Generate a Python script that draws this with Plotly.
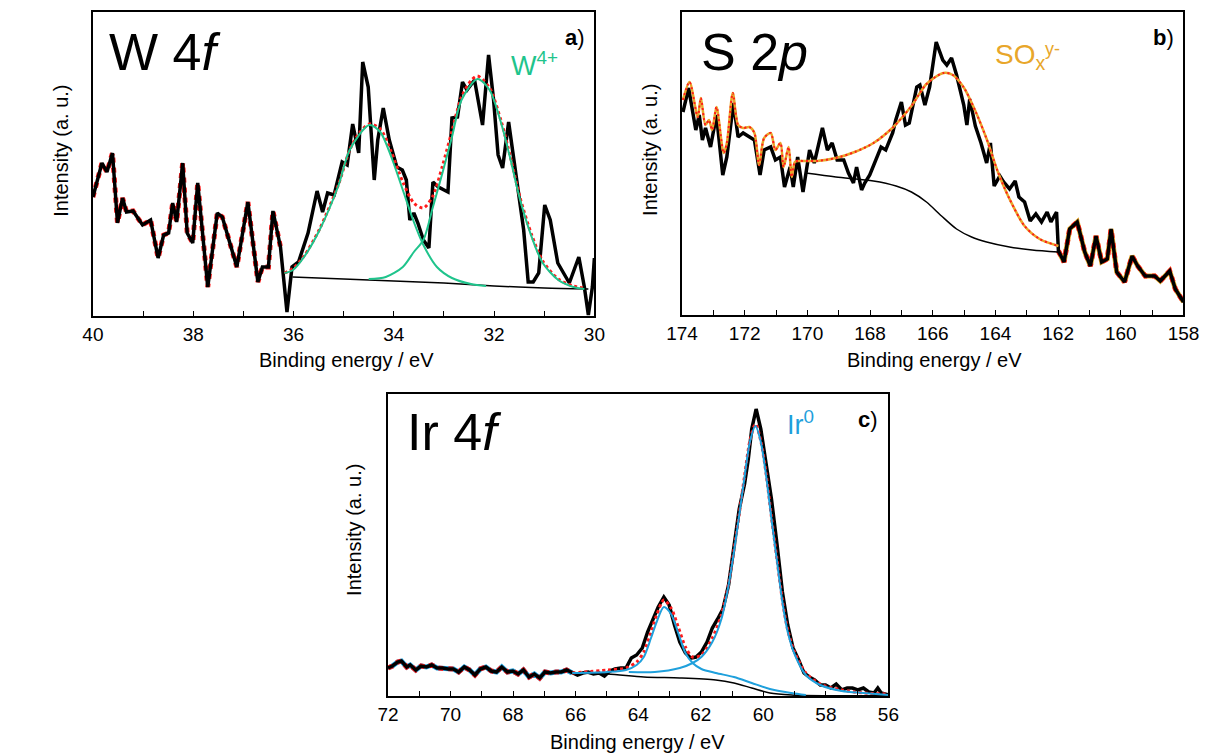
import plotly.graph_objects as go

W, H = 1217, 753

# ---------------- Panel a : W 4f ----------------
a_be = [40.00, 39.82, 39.72, 39.61, 39.51, 39.41, 39.33, 39.20, 39.01, 38.85,
        38.70, 38.59, 38.49, 38.41, 38.33, 38.21, 38.12, 38.01, 37.91, 37.71,
        37.52, 37.42, 37.13, 36.91, 36.71, 36.62, 36.50, 36.41, 36.26, 36.13,
        36.03, 35.90, 35.71, 35.53, 35.42, 35.32, 35.19, 35.03, 34.93, 34.82,
        34.70, 34.62, 34.51, 34.39, 34.32, 34.21, 34.09, 33.94, 33.83, 33.75,
        33.68, 33.60, 33.52, 33.41, 33.30, 33.22, 33.11, 32.92, 32.84, 32.73,
        32.63, 32.54, 32.39, 32.23, 32.11, 32.01, 31.92, 31.83, 31.71, 31.60,
        31.49, 31.41, 31.32, 31.22, 31.11, 30.99, 30.88, 30.73, 30.50, 30.31,
        30.20, 30.12, 30.04, 30.00]
a_raw = [119, 153, 144, 163, 93, 118, 104, 105, 91, 96,
         58, 81, 83, 113, 94, 153, 83, 73, 133, 29,
         103, 99, 49, 114, 34, 49, 49, 105, 69, 4,
         49, 54, 83, 125, 104, 123, 121, 154, 151, 192,
         163, 254, 229, 136, 176, 208, 176, 149, 146, 136,
         96, 103, 93, 76, 68, 134, 129, 124, 198, 199,
         234, 226, 236, 191, 261, 216, 161, 148, 194, 156,
         116, 86, 34, 34, 43, 111, 96, 53, 33, 59,
         29, 1, 29, 58]

a_fit_be = [36.18, 36.00, 35.79, 35.48, 35.10, 34.88, 34.70, 34.49, 34.27, 34.05,
            33.82, 33.60, 33.41, 33.22, 33.03, 32.84, 32.65, 32.45, 32.33, 32.09,
            31.86, 31.67, 31.48, 31.25, 31.03, 30.72, 30.42, 30.20]
a_fit = [43, 48, 60, 87, 132, 166, 182, 192, 187, 164,
         134, 113, 108, 120, 150, 185, 219, 236, 240, 228,
         195, 158, 118, 81, 55, 37, 30, 28]

a_bg_be = [36.02, 35.00, 34.00, 33.00, 32.00, 31.00, 30.12]
a_bg = [39, 37, 35, 33, 30, 28, 27]

a_p1_be = [36.18, 36.01, 35.79, 35.48, 35.10, 34.88, 34.49, 34.27, 34.05, 33.82,
           33.60, 33.41, 33.14, 32.84, 32.46, 32.16]
a_p1 = [43, 46, 59, 86, 131, 166, 191, 184, 159, 126,
        94, 71, 49, 38, 32, 30]

a_p2_be = [34.50, 34.16, 33.82, 33.60, 33.41, 33.22, 33.03, 32.84, 32.65, 32.33,
           32.09, 31.86, 31.67, 31.48, 31.25, 31.03, 30.72, 30.42, 30.20]
a_p2 = [37, 39, 49, 64, 76, 109, 143, 179, 216, 237,
        226, 193, 156, 116, 79, 53, 36, 29, 27]

# ---------------- Panel b : S 2p ----------------
b_be = [173.97, 173.79, 173.56, 173.45, 173.35, 173.25, 173.09, 172.90, 172.70, 172.57,
        172.36, 172.21, 172.05, 171.85, 171.69, 171.51, 171.38, 171.17, 171.02, 170.86,
        170.73, 170.55, 170.45, 170.31, 170.14, 169.93, 169.78, 169.52, 169.36, 169.21,
        169.05, 168.84, 168.69, 168.53, 168.43, 168.27, 168.17, 168.01, 167.81, 167.65,
        167.50, 167.28, 167.18, 167.00, 166.87, 166.75, 166.51, 166.41, 166.25, 166.10,
        165.89, 165.68, 165.55, 165.40, 165.24, 165.01, 164.91, 164.82, 164.64, 164.46,
        164.28, 164.16, 164.04, 163.86, 163.74, 163.55, 163.37, 163.25, 163.07, 162.89,
        162.71, 162.53, 162.35, 162.23, 162.05, 161.99, 161.81, 161.63, 161.39, 161.15,
        160.97, 160.79, 160.61, 160.43, 160.31, 160.13, 159.88, 159.64, 159.46, 159.22,
        158.92, 158.74, 158.44, 158.26, 158.00]
b_raw = [203, 227, 185, 200, 175, 187, 168, 200, 140, 158,
         212, 178, 182, 178, 175, 140, 165, 168, 155, 158,
         128, 148, 128, 158, 123, 165, 152, 187, 165, 172,
         155, 155, 142, 132, 148, 125, 132, 140, 155, 168,
         165, 182, 195, 213, 190, 192, 228, 230, 210, 228,
         273, 255, 250, 257, 240, 210, 190, 216, 189, 172,
         152, 172, 129, 139, 133, 126, 134, 118, 113, 94,
         101, 93, 103, 93, 103, 64, 53, 86, 93, 63,
         49, 79, 53, 56, 86, 43, 33, 59, 49, 39,
         39, 34, 44, 26, 13]

b_env_be = [173.97, 173.76, 173.50, 173.40, 173.25, 173.14, 173.04, 172.90, 172.67, 172.57,
            172.38, 172.21, 172.05, 171.85, 171.69, 171.54, 171.38, 171.17, 171.02, 170.86,
            170.76, 170.60, 170.50, 170.40, 170.30, 169.69, 169.09, 168.49, 167.89, 167.29,
            166.68, 166.20, 165.66, 165.36, 165.00, 164.64, 164.28, 163.92, 163.55, 163.07,
            162.59, 161.99]
b_env = [215, 233, 198, 217, 190, 195, 185, 208, 162, 172,
         222, 190, 187, 188, 182, 150, 177, 182, 165, 172,
         148, 168, 138, 153, 154, 154, 157, 163, 172, 187,
         209, 231, 242, 240, 227, 204, 176, 143, 116, 89,
         76, 69]

b_bg_be = [170.05, 169.09, 167.89, 167.17, 166.68, 166.20, 165.72, 165.24, 164.76, 164.28,
           163.55, 162.83, 161.99]
b_bg = [142, 138, 134, 129, 123, 113, 99, 86, 78, 73, 68, 65, 63]

# ---------------- Panel c : Ir 4f ----------------
c_be = [72.00, 71.86, 71.69, 71.57, 71.40, 71.29, 71.11, 70.94, 70.77, 70.60,
        70.43, 70.25, 70.08, 69.91, 69.74, 69.56, 69.39, 69.22, 69.05, 68.87,
        68.70, 68.53, 68.36, 68.18, 68.01, 67.84, 67.67, 67.49, 67.32, 67.15,
        66.98, 66.80, 66.63, 66.46, 66.29, 66.11, 65.94, 65.77, 65.60, 65.43,
        65.25, 65.08, 64.91, 64.74, 64.56, 64.39, 64.22, 64.05, 63.87, 63.70,
        63.53, 63.36, 63.18, 63.01, 62.84, 62.67, 62.49, 62.32, 62.15, 61.98,
        61.80, 61.63, 61.46, 61.29, 61.11, 60.94, 60.77, 60.60, 60.48, 60.37,
        60.23, 60.08, 59.91, 59.74, 59.56, 59.39, 59.22, 59.05, 58.87, 58.70,
        58.53, 58.36, 58.18, 58.01, 57.84, 57.67, 57.49, 57.32, 57.15, 56.98,
        56.80, 56.63, 56.46, 56.34, 56.23, 56.00]
c_raw = [28, 30, 34, 35, 29, 31, 26, 30, 29, 31,
         28, 28, 27, 27, 24, 29, 26, 21, 27, 29,
         25, 24, 29, 24, 25, 22, 26, 19, 22, 18,
         24, 23, 24, 24, 26, 23, 21, 23, 24, 22,
         23, 20, 25, 27, 28, 28, 38, 41, 48, 64,
         77, 89, 99, 91, 71, 54, 43, 38, 39, 44,
         54, 68, 77, 87, 111, 147, 187, 212, 237, 267,
         287, 267, 234, 197, 151, 104, 71, 48, 36, 23,
         19, 16, 11, 11, 8, 12, 6, 8, 8, 6,
         8, 4, 3, 8, 3, 1]

c_fit_be = [66.11, 64.97, 64.39, 64.05, 63.82, 63.59, 63.41, 63.18, 62.95, 62.72,
            62.49, 62.26, 61.98, 61.63, 61.34, 61.11, 60.94, 60.77, 60.60, 60.43,
            60.25, 60.08, 59.91, 59.74, 59.56, 59.39, 59.22, 58.99, 58.64, 58.18,
            57.49, 56.80, 56.00]
c_fit = [23, 26, 28, 34, 44, 64, 81, 96, 88, 69,
         49, 39, 41, 58, 81, 112, 146, 182, 220, 255,
         272, 255, 222, 179, 136, 96, 66, 43, 23, 12,
         6, 3, 2]

c_p1_be = [66.11, 64.97, 64.39, 64.05, 63.82, 63.59, 63.41, 63.18, 62.95, 62.72,
           62.49, 62.26, 61.98, 61.52, 60.94, 60.37, 59.79, 59.10, 58.64]
c_p1 = [23, 24, 26, 31, 39, 58, 74, 89, 82, 63,
        43, 33, 27, 23, 19, 13, 7, 3, 1]

c_p2_be = [64.30, 63.47, 62.67, 62.26, 61.98, 61.63, 61.34, 61.11, 60.94, 60.77, 60.60,
           60.43, 60.25, 60.08, 59.91, 59.74, 59.56, 59.39, 59.22, 58.99, 58.64,
           58.18, 57.49, 56.80, 56.00]
c_p2 = [24, 24, 28, 33, 39, 54, 77, 111, 144, 181, 219,
        254, 270, 254, 220, 177, 134, 94, 64, 41, 21,
        11, 5, 3, 1]

c_bg_be = [66.11, 64.97, 63.82, 62.67, 61.52, 60.94, 60.37, 59.79, 59.10, 58.06, 56.00]
c_bg = [23, 22, 19, 18, 16, 13, 8, 3, 1, 0.3, 0.3]

# ---------------- styling ----------------
GREEN = "#1fc48c"
ORANGE = "#e8a62a"
BLUE = "#1fa0dc"
RED = "#ff1a1a"
FONT = "Arial"
DOTS = "2px,3px"

fig = go.Figure()


def line(x, y, ax, color, width, dash="solid", shape="linear"):
    xa = "x" if ax == 1 else f"x{ax}"
    ya = "y" if ax == 1 else f"y{ax}"
    fig.add_trace(go.Scatter(x=x, y=y, xaxis=xa, yaxis=ya, mode="lines",
                             line=dict(color=color, width=width, dash=dash, shape=shape,
                                       smoothing=0.8),
                             hoverinfo="skip", showlegend=False))


def sel(xs, ys, cond):
    pts = [(a, b) for a, b in zip(xs, ys) if cond(a)]
    return [p[0] for p in pts], [p[1] for p in pts]


# panel a
xs, ys = sel(a_be, a_raw, lambda v: v >= 36.2)
line(xs, ys, 1, RED, 5, "dot")
line(a_be, a_raw, 1, "black", 3.5)
line(a_fit_be, a_fit, 1, RED, 3, "3px,3px", "spline")
line(a_bg_be, a_bg, 1, "black", 1.5, shape="spline")
line(a_p1_be, a_p1, 1, GREEN, 2, shape="spline")
line(a_p2_be, a_p2, 1, GREEN, 2, shape="spline")

# panel b
xs, ys = sel(b_be, b_raw, lambda v: v <= 162.0)
line(xs, ys, 2, ORANGE, 5)
line(xs, ys, 2, RED, 5, "dot")
line(b_be, b_raw, 2, "black", 3.5)
line(b_bg_be, b_bg, 2, "black", 1.5, shape="spline")
line(b_env_be, b_env, 2, ORANGE, 2.5, shape="spline")
line(b_env_be, b_env, 2, RED, 2, DOTS, "spline")

# panel c
xs, ys = sel(c_be, c_raw, lambda v: v >= 66.1)
line(xs, ys, 3, BLUE, 5)
line(xs, ys, 3, RED, 5, "dot")
line(c_be, c_raw, 3, "black", 3.5)
line(c_fit_be, c_fit, 3, RED, 3, "3px,3px", "spline")
line(c_bg_be, c_bg, 3, "black", 1.5, shape="spline")
line(c_p1_be, c_p1, 3, BLUE, 2, shape="spline")
line(c_p2_be, c_p2, 3, BLUE, 2, shape="spline")


def xaxis(rng, x0, x1, y_anchor):
    return dict(range=rng, domain=[x0 / W, x1 / W], anchor=y_anchor,
                showline=True, linecolor="black", linewidth=1.5, mirror=True,
                ticks="inside", ticklen=5, tickwidth=1, tickcolor="black",
                dtick=2, tick0=0,
                minor=dict(dtick=1, tick0=0, ticks="inside", ticklen=5, tickcolor="black", showgrid=False),
                showgrid=False, zeroline=False,
                tickfont=dict(family=FONT, size=19, color="black"))


def yaxis(rng, top, bot, x_anchor):
    return dict(range=rng, domain=[1 - bot / H, 1 - top / H], anchor=x_anchor,
                showline=True, linecolor="black", linewidth=1.5, mirror=True,
                ticks="", showticklabels=False, showgrid=False, zeroline=False)


fig.update_layout(
    width=W, height=H, margin=dict(l=0, r=0, t=0, b=0),
    paper_bgcolor="white", plot_bgcolor="white",
    xaxis=xaxis([40, 30], 79, 594, "y"),
    yaxis=yaxis([0, 304], 12, 316, "x"),
    xaxis2=xaxis([174, 158], 684, 1199, "y2"),
    yaxis2=yaxis([0, 303], 12, 315, "x2"),
    xaxis3=xaxis([72, 56], 382, 896, "y3"),
    yaxis3=yaxis([0, 302], 394, 696, "x3"),
)


def ann(text, px, py, size, color="black", xanchor="center", angle=0):
    fig.add_annotation(text=text, x=px / W, y=1 - py / H, xref="paper", yref="paper",
                       xanchor=xanchor, yanchor="middle", showarrow=False, textangle=angle,
                       font=dict(family=FONT, size=size, color=color))


ann("W 4<i>f</i>", 93, 52, 52, xanchor="left")
ann("<b>a</b>)", 586, 38, 22, xanchor="right")
ann("W<sup>4+</sup>", 506, 64, 27, GREEN, xanchor="left")

ann("S 2<i>p</i>", 701, 52, 52, xanchor="left")
ann("<b>b</b>)", 1191, 38, 22, xanchor="right")
ann("SO<sub>x</sub>", 1003, 56, 28, ORANGE, xanchor="left")
ann("y-", 1055, 49, 18, ORANGE, xanchor="left")

ann("Ir 4<i>f</i>", 400, 432, 52, xanchor="left")
ann("<b>c</b>)", 887, 420, 22, xanchor="right")
ann("Ir<sup>0</sup>", 790, 423, 27, BLUE, xanchor="left")

ann("Binding energy / eV", 339, 360, 20)
ann("Binding energy / eV", 943, 360, 20)
ann("Binding energy / eV", 638, 742, 20)
ann("Intensity (a. u.)", 46, 151, 20, angle=-90)
ann("Intensity (a. u.)", 651, 150, 20, angle=-90)
ann("Intensity (a. u.)", 347, 530, 20, angle=-90)

fig.write_html("out.html")
